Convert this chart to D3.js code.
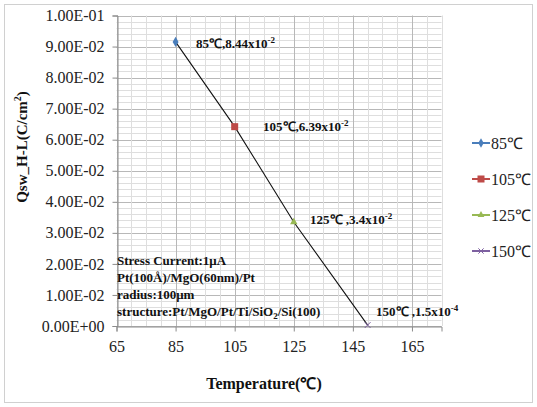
<!DOCTYPE html>
<html>
<head>
<meta charset="utf-8">
<script src="https://cdn.jsdelivr.net/npm/d3@7"></script>
<style>
body{margin:0;background:#fff;}
text{font-family:"Liberation Serif","Times New Roman",serif;}
</style>
</head>
<body>
<svg id="chart" width="537" height="407"></svg>
<script>
var temps=[85,105,125,150];
var qsw=[0.0915,0.0642,0.0335,0.0003];
var seriesNames=["85℃","105℃","125℃","150℃"];
var seriesColors=["#4a7ebb","#be4b48","#98b954","#7d60a0"];
var pointLabels=[["85℃,8.44x10","-2"],["105℃,6.39x10","-2"],["125℃ ,3.4x10","-2"],["150℃ ,1.5x10","-4"]];
var yTicks=[0,0.01,0.02,0.03,0.04,0.05,0.06,0.07,0.08,0.09,0.1];
var xTicks=[65,85,105,125,145,165];
var noteLines=["Stress Current:1μA","Pt(100Å)/MgO(60nm)/Pt","radius:100μm"];

var svg=d3.select("#chart");
svg.append("rect").attr("x",4.5).attr("y",4.5).attr("width",528).attr("height",398)
  .attr("fill","#fff").attr("stroke","#d0d0d0");

var x=d3.scaleLinear().domain([65,175]).range([116.5,441.5]);
var y=d3.scaleLinear().domain([0,0.1]).range([326,15.5]);

// grid
var g=svg.append("g");
g.selectAll(".hmin").data(d3.range(0,51)).enter().append("line")
  .attr("x1",x(65)).attr("x2",x(175))
  .attr("y1",d=>Math.round(y(d*0.002))+0.5).attr("y2",d=>Math.round(y(d*0.002))+0.5)
  .attr("stroke",d=>d%5==0?"#b8b8b8":"#dedede");
g.selectAll(".vmin").data(d3.range(0,23)).enter().append("line")
  .attr("y1",y(0)).attr("y2",y(0.1))
  .attr("x1",d=>Math.round(x(65+d*5))+0.5).attr("x2",d=>Math.round(x(65+d*5))+0.5)
  .attr("stroke",d=>d%4==0?"#b8b8b8":"#dedede");

// axes
var yAxis=svg.append("g").attr("transform","translate("+(Math.round(x(65))+0.5)+",0)")
  .call(d3.axisLeft(y).tickValues(yTicks).tickSize(5).tickPadding(8)
  .tickFormat(d=>d.toExponential(2).toUpperCase().replace(/E([+-])(\d)$/,"E$10$2")));
yAxis.select(".domain").attr("stroke","#8c8c8c");
yAxis.selectAll(".tick line").attr("stroke","#8c8c8c");
yAxis.selectAll("text").attr("font-size","16px").attr("fill","#222").style("font-family","Liberation Serif");

var xAxis=svg.append("g").attr("transform","translate(0,"+(Math.round(y(0))+0.5)+")")
  .call(d3.axisBottom(x).tickValues(xTicks).tickSize(5).tickPadding(9));
xAxis.select(".domain").attr("stroke","#8c8c8c");
xAxis.selectAll(".tick line").attr("stroke","#8c8c8c");
xAxis.selectAll("text").attr("font-size","16px").attr("fill","#222").style("font-family","Liberation Serif");

// axis titles
var yt=svg.append("text").attr("transform","translate(27,147) rotate(-90)")
  .attr("text-anchor","middle").attr("font-size","15px").attr("font-weight","bold").attr("fill","#111");
yt.append("tspan").text("Qsw_H-L(C/cm");
yt.append("tspan").attr("font-size","10px").attr("dy",-6).text("2");
yt.append("tspan").attr("dy",6).text(")");

svg.append("text").attr("x",264).attr("y",389).attr("text-anchor","middle")
  .attr("font-size","16px").attr("font-weight","bold").attr("fill","#111").text("Temperature(℃)");

// line
var pts=temps.map((t,i)=>[t,qsw[i]]);
svg.append("path").datum(pts).attr("fill","none").attr("stroke","#111").attr("stroke-width",1.1)
  .attr("d",d3.line().x(d=>x(d[0])).y(d=>y(d[1])));

// markers
function marker(sel,i,cx,cy,s){
  if(i==0) sel.append("path").attr("d",d3.symbol(d3.symbolDiamond,s*5)()).attr("transform","translate("+cx+","+cy+")").attr("fill",seriesColors[0]);
  if(i==1) sel.append("rect").attr("x",cx-3.5).attr("y",cy-3.5).attr("width",7).attr("height",7).attr("fill",seriesColors[1]);
  if(i==2) sel.append("path").attr("d",d3.symbol(d3.symbolTriangle,s*4)()).attr("transform","translate("+cx+","+cy+")").attr("fill",seriesColors[2]);
  if(i==3) sel.append("path").attr("d",d3.symbol(d3.symbolX,s*4)()).attr("transform","translate("+cx+","+cy+")").attr("fill","none").attr("stroke",seriesColors[3]);
}
pts.forEach((d,i)=>marker(svg,i,x(d[0]),y(d[1]),6));

// point labels
var labelPos=[[196,48],[263,131],[310,224],[376,316]];
pointLabels.forEach((l,i)=>{
  var t=svg.append("text").attr("x",labelPos[i][0]).attr("y",labelPos[i][1])
    .attr("font-size","13px").attr("font-weight","bold").attr("fill","#111");
  t.append("tspan").text(l[0]);
  t.append("tspan").attr("font-size","9px").attr("dy",-5).text(l[1]);
});

// note box
noteLines.forEach((s,i)=>{
  svg.append("text").attr("x",117).attr("y",265+i*17).attr("font-size","13px").attr("font-weight","bold")
    .attr("fill","#111").text(s);
});
var st=svg.append("text").attr("x",117).attr("y",316).attr("font-size","13px").attr("font-weight","bold").attr("fill","#111");
st.append("tspan").text("structure:Pt/MgO/Pt/Ti/SiO");
st.append("tspan").attr("font-size","9px").attr("dy",3).text("2");
st.append("tspan").attr("dy",-3).text("/Si(100)");

// legend
var leg=svg.append("g");
seriesNames.forEach((n,i)=>{
  var ly=143+i*36;
  leg.append("line").attr("x1",472).attr("x2",490).attr("y1",ly).attr("y2",ly).attr("stroke",seriesColors[i]).attr("stroke-width",2);
  marker(leg,i,481,ly,5);
  leg.append("text").attr("x",491).attr("y",ly+5.5).attr("font-size","16px").attr("fill","#222").text(n);
});
</script>
</body>
</html>
